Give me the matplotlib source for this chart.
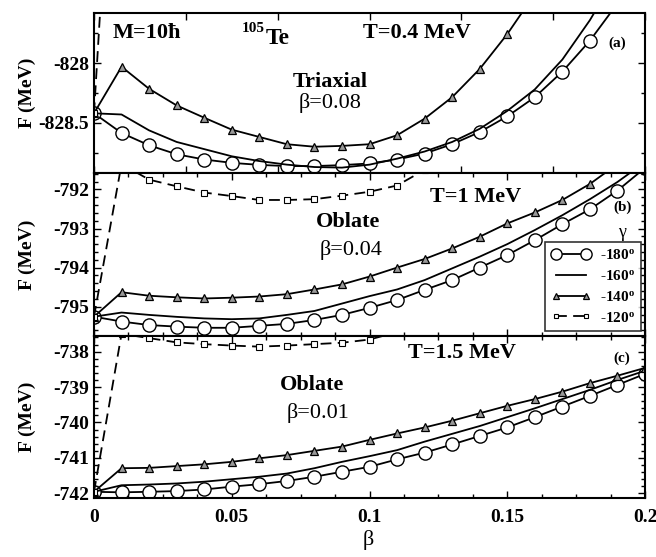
import numpy as np
import matplotlib
matplotlib.use("Agg")
import matplotlib.pyplot as plt
from matplotlib.ticker import MultipleLocator

plt.rcParams['font.family'] = ['Liberation Serif', 'DejaVu Serif']
plt.rcParams['axes.unicode_minus'] = False
plt.rcParams['mathtext.fontset'] = 'custom'
plt.rcParams['mathtext.rm'] = 'Liberation Serif:bold'
plt.rcParams['mathtext.it'] = 'Liberation Serif:bold'
plt.rcParams['mathtext.bf'] = 'Liberation Serif:bold'

nan = np.nan
beta = [0.00, 0.01, 0.02, 0.03, 0.04, 0.05, 0.06, 0.07, 0.08, 0.09, 0.10,
        0.11, 0.12, 0.13, 0.14, 0.15, 0.16, 0.17, 0.18, 0.19, 0.20]
gamma_labels = ['-180', '-160', '-140', '-120']

# Panel (a): T = 0.4 MeV
a_180 = [-828.42, -828.585, -828.688, -828.763, -828.807, -828.835, -828.852, -828.862, -828.862, -828.854, -828.840,
         -828.807, -828.757, -828.679, -828.577, -828.446, -828.285, -828.071, -827.812, -827.50, nan]
a_160 = [-828.42, -828.43, -828.563, -828.66, -828.72, -828.78, -828.82, -828.85, -828.87, -828.875, -828.85,
         -828.80, -828.74, -828.66, -828.55, -828.40, -828.22, -827.97, -827.64, -827.25, nan]
a_140 = [-828.42, -828.03, -828.215, -828.354, -828.457, -828.557, -828.618, -828.679, -828.70, -828.693, -828.679,
         -828.604, -828.465, -828.285, -828.049, -827.757, -827.42, nan, nan, nan, nan]
a_120 = [-828.42, -824.6, nan, nan, nan, nan, nan, nan, nan, nan, nan,
         nan, nan, nan, nan, nan, nan, nan, nan, nan, nan]

# Panel (b): T = 1 MeV
b_180 = [-795.256, -795.38, -795.47, -795.51, -795.54, -795.54, -795.49, -795.44, -795.34, -795.21, -795.03,
         -794.83, -794.57, -794.32, -794.00, -793.68, -793.30, -792.89, -792.51, -792.03, -791.45]
b_160 = [-795.256, -795.15, -795.21, -795.26, -795.30, -795.32, -795.30, -795.21, -795.11, -794.92, -794.73,
         -794.56, -794.32, -794.02, -793.72, -793.40, -793.04, -792.66, -792.25, -791.81, -791.30]
b_140 = [-795.256, -794.63, -794.72, -794.76, -794.79, -794.77, -794.74, -794.68, -794.56, -794.43, -794.23,
         -794.00, -793.78, -793.51, -793.21, -792.87, -792.59, -792.27, -791.86, -791.35, nan]
b_120 = [-795.256, -791.35, -791.75, -791.92, -792.08, -792.17, -792.27, -792.27, -792.25, -792.16, -792.06,
         -791.90, -791.50, nan, nan, nan, nan, nan, nan, nan, nan]

# Panel (c): T = 1.5 MeV
c_180 = [-741.955, -741.97, -741.955, -741.935, -741.89, -741.81, -741.74, -741.65, -741.53, -741.39, -741.25,
         -741.04, -740.85, -740.62, -740.38, -740.14, -739.85, -739.55, -739.25, -738.94, -738.63]
c_160 = [-741.955, -741.77, -741.75, -741.72, -741.67, -741.60, -741.53, -741.44, -741.29, -741.11, -740.95,
         -740.78, -740.54, -740.32, -740.10, -739.85, -739.60, -739.34, -739.08, -738.80, -738.54]
c_140 = [-741.955, -741.29, -741.28, -741.23, -741.18, -741.11, -741.01, -740.92, -740.80, -740.68, -740.49,
         -740.31, -740.14, -739.95, -739.74, -739.53, -739.34, -739.13, -738.89, -738.68, -738.46]
c_120 = [-741.955, -737.50, -737.62, -737.74, -737.79, -737.83, -737.86, -737.83, -737.79, -737.75, -737.66,
         -737.45, nan, nan, nan, nan, nan, nan, nan, nan, nan]

panels = [
    dict(series=[a_180, a_160, a_140, a_120], ylim=(-828.92, -827.58), major=0.5, minor=0.25,
         yticks=[-828.5, -828], yfmt='{:g}'),
    dict(series=[b_180, b_160, b_140, b_120], ylim=(-795.75, -791.58), major=1, minor=0.2,
         yticks=[-795, -794, -793, -792], yfmt='{:g}'),
    dict(series=[c_180, c_160, c_140, c_120], ylim=(-742.13, -737.56), major=1, minor=0.2,
         yticks=[-742, -741, -740, -739, -738], yfmt='{:g}'),
]

W, H = 656, 557
fig = plt.figure(figsize=(W / 100, H / 100), dpi=100)

def fx(px):
    return px / W

def fy(py):
    return 1 - py / H

bounds = [(13, 173), (173, 336), (336, 498)]
left, right = 94, 645
lw = 1.3
styles = [
    dict(color='black', lw=lw, ls='-', marker='o', ms=9.5, mfc='white', mec='black', mew=1.0),
    dict(color='black', lw=lw, ls='-', marker=None),
    dict(color='black', lw=lw, ls='-', marker='^', ms=5.5, mfc='0.6', mec='black', mew=0.9),
    dict(color='black', lw=lw, ls=(0, (6, 3.5)), marker='s', ms=4, mfc='white', mec='black', mew=0.8),
]

axes = []
for i, (p, (top, bot)) in enumerate(zip(panels, bounds)):
    ax = fig.add_axes([fx(left), fy(bot), fx(right) - fx(left), (bot - top) / H])
    axes.append(ax)
    handles = []
    for s, st, lab in zip(p['series'], styles, gamma_labels):
        h, = ax.plot(beta, s, label=lab + r'$^{\rm o}$', clip_on=True, **st)
        handles.append(h)
    ax.set_xlim(0, 0.2)
    ax.set_ylim(*p['ylim'])
    ax.yaxis.set_major_locator(MultipleLocator(p['major']))
    ax.yaxis.set_minor_locator(MultipleLocator(p['minor']))
    ax.set_yticks(p['yticks'])
    ax.set_yticklabels([p['yfmt'].format(v) for v in p['yticks']])
    if i == 0:
        ax.xaxis.set_major_locator(MultipleLocator(0.2 / 6))
        ax.xaxis.set_minor_locator(MultipleLocator(0.2 / 6))
    else:
        ax.xaxis.set_major_locator(MultipleLocator(0.05))
        ax.xaxis.set_minor_locator(MultipleLocator(0.0125))
    ax.tick_params(which='both', direction='in', top=True, right=True, width=1.0)
    ax.tick_params(which='major', length=5)
    ax.tick_params(which='minor', length=3)
    for t in ax.get_yticklabels():
        t.set_fontweight('bold')
        t.set_fontsize(14)
    if i < 2:
        ax.tick_params(axis='x', labelbottom=False)
    else:
        ax.set_xticks([0, 0.05, 0.1, 0.15, 0.2])
        ax.set_xticklabels(['0', '0.05', '0.1', '0.15', '0.2'], fontsize=14, fontweight='bold')
        ax.tick_params(axis='x', pad=8)
    for sp in ax.spines.values():
        sp.set_linewidth(1.5)
    fig.text(fx(27), fy((top + bot) / 2), 'F (MeV)', rotation=90, ha='center', va='center',
             fontsize=14, fontweight='bold')
    if i == 1:
        leg = ax.legend(handles=handles, loc='upper left', bbox_to_anchor=(fx(545), fy(242)),
                        bbox_transform=fig.transFigure, borderaxespad=0, frameon=True, fancybox=False,
                        edgecolor='black', prop=dict(weight='bold', size=11),
                        handlelength=2.6, numpoints=2, labelspacing=0.45, borderpad=0.4,
                        handletextpad=0.6, markerscale=0.85)
        leg.get_frame().set_linewidth(1.2)

# annotations
fig.text(fx(113), fy(33), 'M=10ħ', fontsize=16, fontweight='bold', ha='left', va='center')
fig.text(fx(242), fy(28), '105', fontsize=11, fontweight='bold', ha='left', va='center')
fig.text(fx(266), fy(38), 'Te', fontsize=17, fontweight='bold', ha='left', va='center')
fig.text(fx(363), fy(33), 'T=0.4 MeV', fontsize=16, fontweight='bold', ha='left', va='center')
fig.text(fx(330), fy(82), 'Triaxial', fontsize=16, fontweight='bold', ha='center', va='center')
fig.text(fx(330), fy(103), 'β=0.08', fontsize=16, ha='center', va='center')
fig.text(fx(608), fy(43), '(a)', fontsize=11, fontweight='bold', ha='left', va='center')

fig.text(fx(430), fy(197), 'T=1 MeV', fontsize=16, fontweight='bold', ha='left', va='center')
fig.text(fx(613), fy(207), '(b)', fontsize=11, fontweight='bold', ha='left', va='center')
fig.text(fx(348), fy(222), 'Oblate', fontsize=16, fontweight='bold', ha='center', va='center')
fig.text(fx(351), fy(250), 'β=0.04', fontsize=16, ha='center', va='center')
fig.text(fx(622), fy(233), 'γ', fontsize=13, ha='center', va='center')

fig.text(fx(408), fy(353), 'T=1.5 MeV', fontsize=16, fontweight='bold', ha='left', va='center')
fig.text(fx(613), fy(358), '(c)', fontsize=11, fontweight='bold', ha='left', va='center')
fig.text(fx(312), fy(385), 'Oblate', fontsize=16, fontweight='bold', ha='center', va='center')
fig.text(fx(318), fy(413), 'β=0.01', fontsize=16, ha='center', va='center')

fig.text(fx(368), fy(540), 'β', fontsize=16, ha='center', va='center')

fig.savefig('out.png', dpi=100)
